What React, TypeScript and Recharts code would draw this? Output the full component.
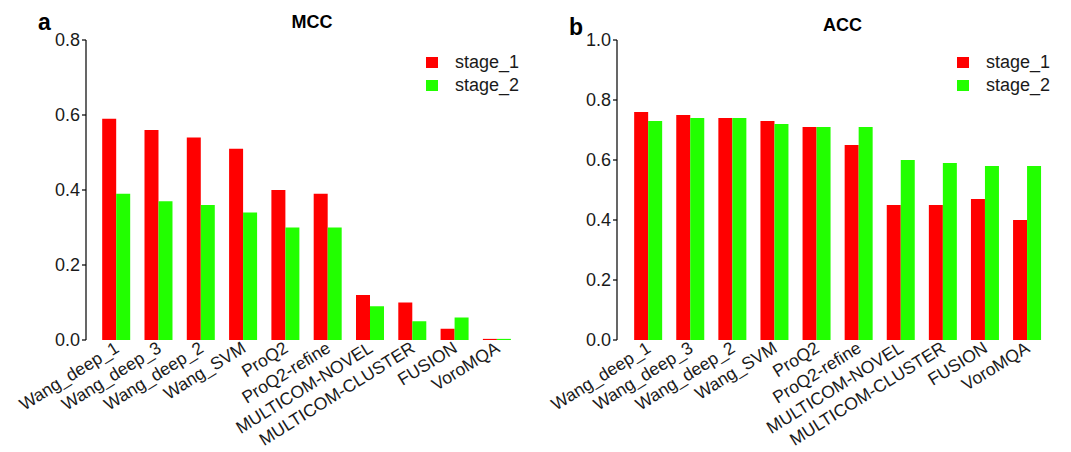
import React from "react";
import { BarChart, Bar, XAxis, YAxis } from "recharts";

const methods = [
  "Wang_deep_1",
  "Wang_deep_3",
  "Wang_deep_2",
  "Wang_SVM",
  "ProQ2",
  "ProQ2-refine",
  "MULTICOM-NOVEL",
  "MULTICOM-CLUSTER",
  "FUSION",
  "VoroMQA"
];

const mccStage1 = [0.59, 0.56, 0.54, 0.51, 0.4, 0.39, 0.12, 0.1, 0.03, 0.003];
const mccStage2 = [0.39, 0.37, 0.36, 0.34, 0.3, 0.3, 0.09, 0.05, 0.06, 0.003];
const accStage1 = [0.76, 0.75, 0.74, 0.73, 0.71, 0.65, 0.45, 0.45, 0.47, 0.4];
const accStage2 = [0.73, 0.74, 0.74, 0.72, 0.71, 0.71, 0.6, 0.59, 0.58, 0.58];

const mccTicks = [0, 0.2, 0.4, 0.6, 0.8];
const accTicks = [0, 0.2, 0.4, 0.6, 0.8, 1.0];

const RED = "#ff0000";
const GREEN = "#22ff00";
const FONT = "Liberation Sans, Arial, sans-serif";
const TEXT = "#1a1a1a";

const mccData = methods.map((m, i) => ({ name: m, stage_1: mccStage1[i], stage_2: mccStage2[i] }));
const accData = methods.map((m, i) => ({ name: m, stage_1: accStage1[i], stage_2: accStage2[i] }));

// rotated category labels, right end sits under the bar pair
const AngledTick = (props: any) => {
  const { x, y, payload } = props;
  return (
    <g transform={`translate(${x + 4},${y + 11})`}>
      <text
        x={0}
        y={0}
        textAnchor="end"
        transform="rotate(-32)"
        fontSize={17.5}
        fontFamily={FONT}
        fill={TEXT}
      >
        {payload.value}
      </text>
    </g>
  );
};

const LegendBox = () => (
  <div style={{ position: "absolute", left: 426, top: 51, fontFamily: FONT, fontSize: 18, color: TEXT }}>
    {[
      ["stage_1", RED],
      ["stage_2", GREEN]
    ].map(([label, color]) => (
      <div key={label} style={{ display: "flex", alignItems: "center", height: 23 }}>
        <span style={{ width: 12, height: 11, background: color, display: "inline-block", marginRight: 17 }} />
        <span>{label}</span>
      </div>
    ))}
  </div>
);

type PanelProps = {
  left: number;
  width: number;
  letter: string;
  letterTop: number;
  title: string;
  titleTop: number;
  data: any[];
  ticks: number[];
  max: number;
  padLeft: number;
  marginRight: number;
};

const Panel = (p: PanelProps) => (
  <div style={{ position: "absolute", left: p.left, top: 0, width: p.width, height: 452 }}>
    <div
      style={{
        position: "absolute",
        left: 38,
        top: p.letterTop,
        fontFamily: FONT,
        fontWeight: "bold",
        fontSize: 23,
        lineHeight: "23px",
        color: "#000"
      }}
    >
      {p.letter}
    </div>
    <div
      style={{
        position: "absolute",
        left: 96,
        width: p.width - 86 - p.marginRight,
        top: p.titleTop,
        textAlign: "center",
        fontFamily: FONT,
        fontWeight: "bold",
        fontSize: 18,
        lineHeight: "18px",
        color: "#000"
      }}
    >
      {p.title}
    </div>
    <BarChart
      width={p.width}
      height={452}
      data={p.data}
      margin={{ top: 40, right: p.marginRight, bottom: 0, left: 0 }}
      barCategoryGap="17%"
      barGap={0}
    >
      <XAxis
        dataKey="name"
        interval={0}
        axisLine={false}
        tickLine={false}
        tickSize={0}
        tickMargin={0}
        height={112}
        padding={{ left: p.padLeft, right: 0 }}
        tick={<AngledTick />}
      />
      <YAxis
        width={86}
        domain={[0, p.max]}
        ticks={p.ticks}
        allowDataOverflow
        tickFormatter={(v: number) => v.toFixed(1)}
        axisLine={{ stroke: "#000", strokeWidth: 1.2 }}
        tickLine={{ stroke: "#000", strokeWidth: 1.2 }}
        tickSize={4}
        tickMargin={2}
        tick={{ fontSize: 18, fontFamily: FONT, fill: TEXT }}
      />
      <Bar dataKey="stage_1" fill={RED} isAnimationActive={false} />
      <Bar dataKey="stage_2" fill={GREEN} isAnimationActive={false} />
    </BarChart>
    <LegendBox />
  </div>
);

export default function App() {
  return (
    <div style={{ position: "absolute", left: 0, top: 0, width: 1071, height: 452, background: "#fff" }}>
      <Panel
        left={0}
        width={535}
        letter="a"
        letterTop={11}
        title="MCC"
        titleTop={13}
        data={mccData}
        ticks={mccTicks}
        max={0.8}
        padLeft={9}
        marginRight={17}
      />
      <Panel
        left={531}
        width={540}
        letter="b"
        letterTop={16}
        title="ACC"
        titleTop={16}
        data={accData}
        ticks={accTicks}
        max={1.0}
        padLeft={10}
        marginRight={23}
      />
    </div>
  );
}
